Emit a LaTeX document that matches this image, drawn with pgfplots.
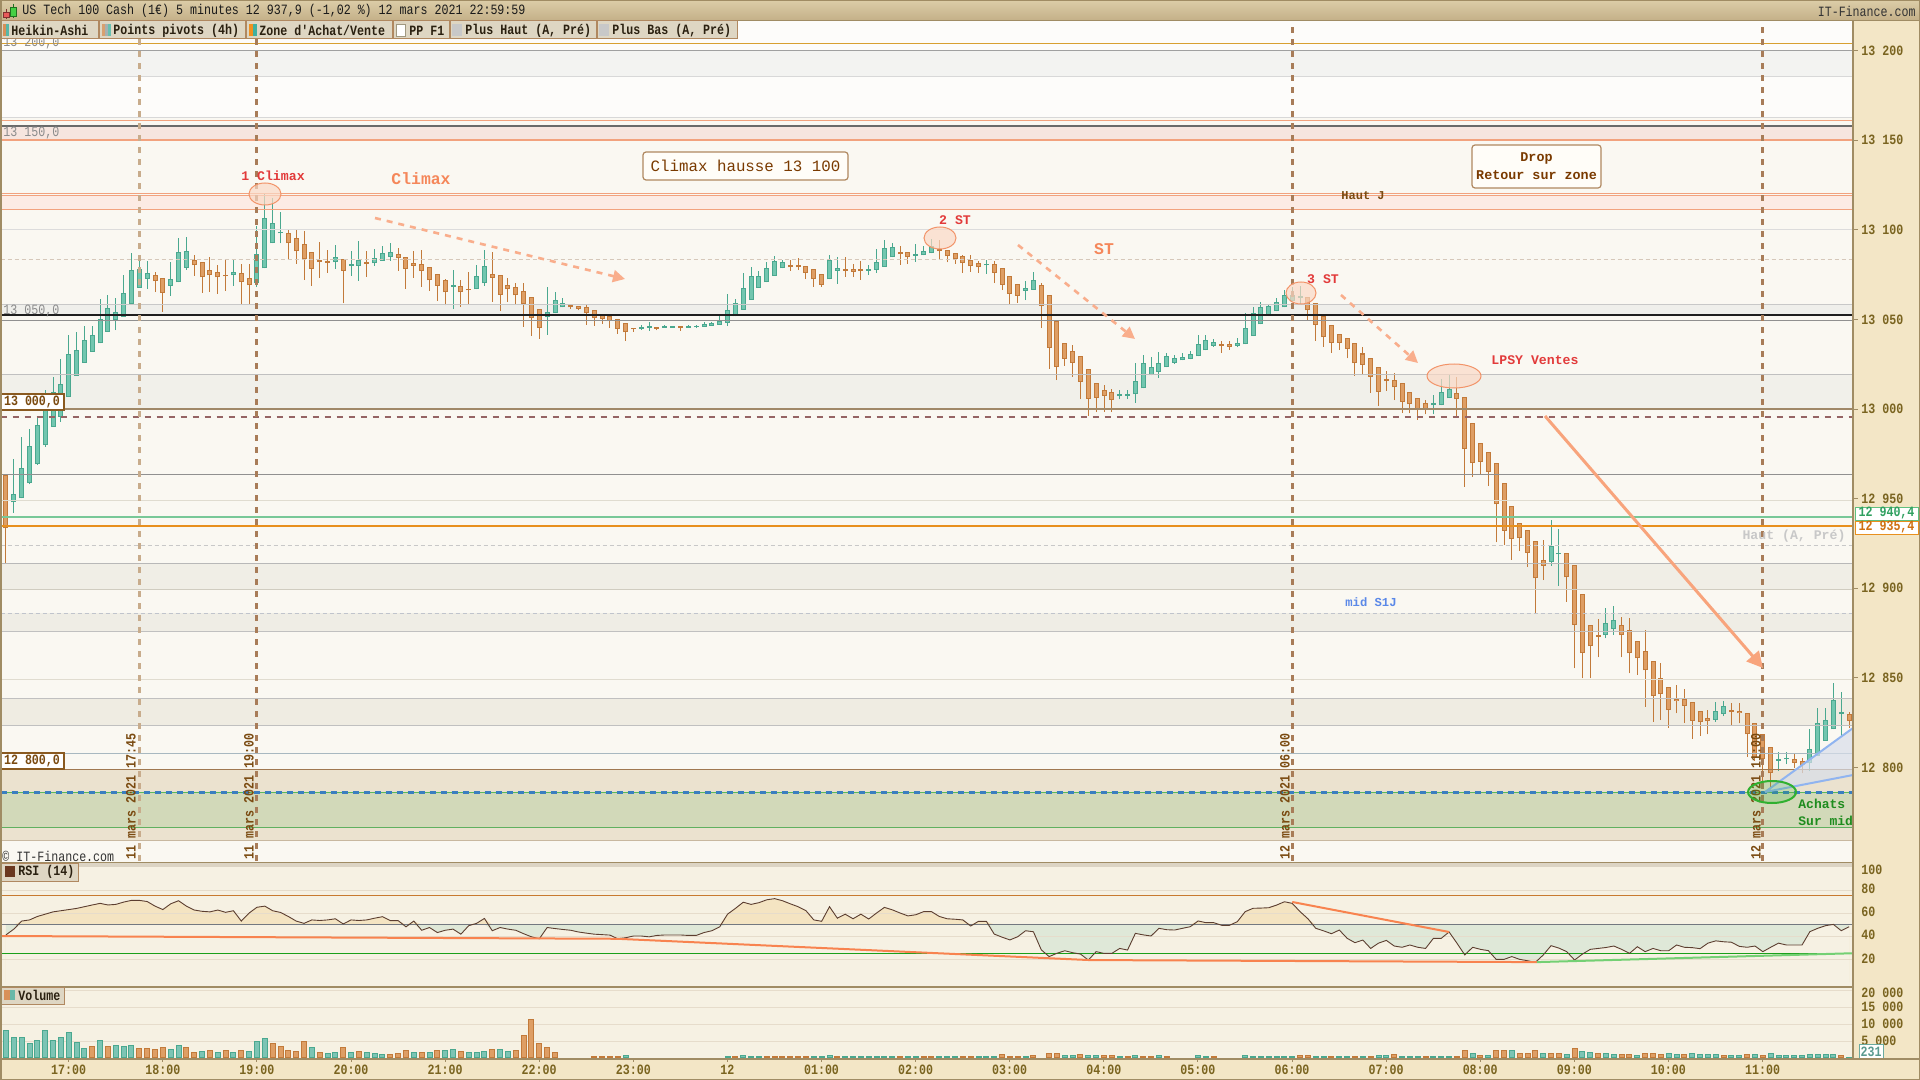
\documentclass[border=0pt]{standalone}
\usepackage{fontspec}
\setmainfont{Liberation Mono}
\newfontfamily\cf[FakeStretch=0.82]{Liberation Mono}
\usepackage{pgfplots}
\pgfplotsset{compat=1.18}
\usetikzlibrary{arrows.meta}
\usepackage{pgfplotstable}

\definecolor{tealB}{HTML}{4AA88F}
\definecolor{tealF}{HTML}{72C6AF}
\definecolor{orgB}{HTML}{C27A3A}
\definecolor{orgF}{HTML}{DE9E64}
\definecolor{frame}{HTML}{A08C64}
\definecolor{titleA}{HTML}{DCCDA8}
\definecolor{titleB}{HTML}{C3AF87}
\definecolor{btn}{HTML}{DED6C3}
\definecolor{mainbg}{HTML}{FAF8F2}
\definecolor{subbg}{HTML}{F6F1E3}
\definecolor{band}{HTML}{F3E6C6}
\definecolor{tick}{HTML}{7A6420}
\definecolor{dbrown}{HTML}{7A4A10}
\definecolor{ared}{HTML}{E23A3A}
\definecolor{aorange}{HTML}{F5875A}
\definecolor{arrowc}{HTML}{F9AE8C}
\definecolor{ellF}{HTML}{FAD9C6}
\definecolor{ellD}{HTML}{F29368}
\definecolor{boxB}{HTML}{B08860}
\definecolor{pinkL}{HTML}{F2A27E}
\definecolor{rsiup}{HTML}{F4E4C2}
\definecolor{rsidn}{HTML}{DFE8D8}
\definecolor{rsiln}{HTML}{5C3E30}
\definecolor{vline}{HTML}{A87C58}
\newcommand\dc[1]{\definecolor{c#1}{HTML}{#1}}
\dc{F3F3F1}\dc{F6E5DF}\dc{FCEBE4}\dc{EFEFEB}\dc{F1F0EA}\dc{F0EEE6}\dc{EFEDE5}
\dc{EFECE2}\dc{EBE2CF}\dc{D2D9B9}\dc{D8A030}\dc{A0A0A0}\dc{D8D8D8}\dc{6A6A6A}
\dc{DCDCDC}\dc{D6C8BA}\dc{C8C8C8}\dc{1E1E1E}\dc{909090}\dc{C0C0C0}\dc{A08868}
\dc{956464}\dc{E0DCD0}\dc{78C898}\dc{E8901E}\dc{B8B8B8}\dc{D0CCC0}\dc{C0C4CC}
\dc{A8B8C0}\dc{A07850}\dc{5CB85C}\dc{3A7EC0}\dc{60B060}\dc{C8B8A0}\dc{C8AC8C}
\dc{E6DCCB}\dc{C87A30}\dc{737880}\dc{1AA01A}\dc{F8834F}\dc{74D074}\dc{7CC4B4}
\dc{803030}\dc{E85A5A}\dc{207020}\dc{44D044}\dc{1A1A1A}\dc{333333}\dc{8C8C8C}
\dc{D89058}\dc{58B8A8}\dc{2A2010}\dc{D8A070}\dc{A8B0B0}\dc{68C0B0}\dc{F09020}
\dc{40B0A0}\dc{A09880}\dc{8A5A20}\dc{FFFDF8}\dc{7A3A00}\dc{F8A47C}\dc{5A88E8}
\dc{D8DEEA}\dc{90B4F0}\dc{30B030}\dc{1E8C1E}\dc{DCD4C4}\dc{6A3820}\dc{68B8A8}
\dc{60C080}\dc{30A060}\dc{D07010}\dc{6AAAA0}\dc{5A9A90}\dc{FDFCFA}

% Heikin-Ashi candles, bar index i = 5 min from 16:20 (11 mars)
\pgfplotstableread{
i o h l c
1 12948.0 12972.0 12942.2 12952.6
2 12950.2 12984.6 12950.2 12966.9
3 12958.6 12988.7 12958.0 12979.4
4 12969.2 12995.8 12969.0 12991.1
5 12979.8 13010.6 12979.0 12999.5
6 12990.2 13017.7 12990.0 13009.3
7 12995.8 13027.8 12993.0 13013.8
8 13006.9 13041.3 13006.9 13030.5
9 13018.6 13043.0 13018.6 13032.8
10 13025.9 13046.4 13025.9 13038.4
11 13032.0 13046.4 13032.0 13041.1
12 13036.7 13061.4 13036.7 13050.1
13 13043.2 13063.6 13043.2 13056.2
14 13049.9 13062.0 13044.1 13054.0
15 13051.6 13074.6 13051.6 13064.6
16 13058.4 13087.1 13058.4 13077.6
17 13067.7 13082.4 13067.7 13078.3
18 13072.8 13082.8 13067.2 13075.7
21 13068.9 13082.1 13063.1 13072.4
22 13070.7 13095.3 13070.7 13087.5
23 13078.9 13096.0 13077.6 13088.2
29 13074.6 13083.2 13068.9 13076.3
32 13070.5 13102.2 13068.0 13086.3
33 13078.5 13119.8 13078.5 13106.4
34 13092.5 13117.6 13092.5 13103.6
35 13098.0 13109.8 13092.5 13099.0
42 13081.9 13091.5 13078.3 13084.7
44 13079.8 13088.2 13074.3 13080.8
45 13080.0 13093.8 13071.6 13083.0
47 13081.3 13089.1 13080.0 13084.1
48 13082.8 13091.0 13082.8 13086.9
49 13084.7 13092.7 13082.8 13087.5
57 13068.1 13077.6 13055.7 13069.1
60 13066.8 13080.4 13066.8 13074.1
61 13070.1 13088.7 13068.8 13079.6
69 13051.1 13067.9 13041.5 13053.9
70 13053.4 13065.1 13053.4 13060.6
71 13056.7 13061.7 13056.7 13058.9
81 13044.8 13046.7 13044.2 13045.9
82 13045.4 13048.3 13043.7 13046.4
84 13045.4 13046.7 13045.4 13046.4
85 13045.4 13046.5 13045.4 13046.4
87 13045.4 13046.9 13045.4 13046.4
88 13045.6 13046.9 13045.2 13046.6
89 13045.9 13048.5 13045.9 13047.2
90 13046.5 13048.5 13046.5 13048.0
91 13047.0 13051.9 13047.0 13049.3
92 13048.2 13064.1 13046.3 13055.0
93 13051.7 13061.4 13051.7 13058.9
94 13055.4 13075.9 13055.4 13067.3
95 13061.0 13079.2 13061.0 13074.0
96 13067.7 13077.0 13067.7 13074.0
97 13070.7 13082.0 13070.7 13078.5
98 13074.4 13085.4 13074.4 13082.4
99 13078.5 13083.0 13078.5 13081.8
105 13072.3 13085.7 13072.3 13083.0
106 13077.2 13084.8 13069.9 13078.5
110 13077.2 13080.1 13074.9 13078.2
111 13077.7 13089.1 13076.1 13081.8
112 13079.4 13094.1 13079.4 13089.6
113 13084.6 13092.6 13084.6 13090.2
116 13085.5 13092.0 13082.2 13086.5
117 13085.7 13090.7 13085.7 13088.0
118 13086.8 13094.6 13086.8 13090.7
125 13080.2 13083.1 13075.5 13081.2
130 13066.0 13071.4 13060.8 13067.5
131 13066.6 13076.4 13066.6 13072.0
142 13007.2 13010.6 13005.4 13008.2
143 13007.4 13010.6 13005.6 13008.4
144 13008.2 13025.5 13003.5 13015.4
145 13011.5 13030.1 13011.5 13025.5
146 13018.8 13029.0 13018.8 13023.2
147 13020.8 13031.6 13017.5 13025.5
148 13023.2 13031.4 13023.2 13029.6
149 13025.8 13030.1 13025.1 13028.3
150 13027.1 13031.0 13027.1 13028.8
151 13028.1 13032.3 13027.7 13030.5
152 13029.4 13041.3 13029.4 13036.1
153 13032.7 13041.3 13032.7 13038.3
154 13035.3 13038.9 13034.8 13037.2
157 13035.3 13039.6 13034.4 13036.6
158 13036.1 13053.4 13036.1 13045.0
159 13040.7 13056.7 13040.7 13053.4
160 13047.2 13059.5 13047.2 13056.7
161 13051.9 13058.4 13051.9 13057.3
162 13054.5 13061.7 13054.5 13059.5
163 13056.7 13066.2 13056.7 13063.4
164 13060.1 13067.9 13060.1 13063.8
165 13062.2 13068.4 13058.4 13063.2
182 13002.2 13007.8 12997.0 13003.2
183 13002.0 13016.6 13002.0 13009.3
184 13006.0 13019.0 13006.0 13011.2
197 12914.4 12938.1 12912.6 12923.5
198 12918.9 12933.0 12901.4 12919.9
204 12873.7 12889.1 12872.0 12880.4
205 12877.1 12890.3 12874.1 12882.3
218 12826.8 12836.7 12825.5 12831.8
219 12829.8 12837.4 12828.7 12834.1
226 12803.8 12808.8 12798.2 12804.8
227 12804.5 12808.4 12801.9 12805.5
230 12802.3 12821.3 12798.2 12810.1
231 12806.4 12833.0 12806.4 12824.6
232 12815.0 12833.5 12815.0 12826.8
233 12821.3 12847.3 12821.3 12837.6
234 12829.8 12842.3 12817.2 12830.8
}\haT

\pgfplotstableread{
i o h l c
0 12963.2 12963.2 12913.9 12933.4
19 13074.6 13076.5 13065.3 13071.3
20 13073.0 13073.0 13054.4 13065.0
24 13083.4 13085.8 13074.3 13080.2
25 13081.9 13081.9 13065.0 13073.5
26 13077.4 13084.7 13065.5 13074.6
27 13076.3 13080.4 13064.4 13073.5
28 13075.0 13083.2 13066.1 13074.0
30 13075.7 13080.8 13058.8 13070.7
31 13073.0 13080.8 13058.8 13069.0
36 13098.1 13099.9 13083.9 13092.5
37 13095.3 13099.9 13081.1 13088.0
38 13091.9 13099.5 13072.2 13083.7
39 13087.5 13087.5 13068.9 13078.0
40 13083.2 13093.2 13073.3 13082.2
41 13082.6 13088.8 13076.1 13081.6
43 13083.6 13083.6 13059.0 13076.9
46 13081.8 13088.2 13073.9 13080.8
50 13086.3 13089.7 13077.2 13084.1
51 13085.0 13085.0 13067.2 13078.0
52 13081.3 13088.4 13073.3 13080.0
53 13080.8 13088.8 13068.3 13076.9
54 13079.1 13079.1 13066.1 13071.8
55 13075.2 13075.2 13060.3 13068.7
56 13071.8 13072.5 13057.9 13065.1
58 13068.5 13071.8 13057.1 13065.1
59 13067.2 13076.3 13058.3 13066.2
62 13075.1 13087.6 13059.9 13073.3
63 13074.6 13074.6 13054.9 13063.8
64 13069.0 13072.9 13059.9 13066.8
65 13067.9 13070.3 13058.8 13063.4
66 13065.6 13070.3 13046.0 13058.4
67 13062.3 13062.3 13040.9 13050.6
68 13056.1 13056.1 13039.2 13045.4
72 13057.8 13057.8 13056.0 13056.7
73 13057.3 13057.3 13055.0 13056.1
74 13056.7 13057.8 13047.0 13053.4
75 13055.0 13055.0 13046.5 13050.6
76 13052.2 13052.2 13047.6 13050.4
77 13051.7 13051.7 13045.4 13048.9
78 13050.0 13050.0 13042.0 13044.8
79 13047.8 13047.8 13038.1 13042.8
80 13045.4 13045.4 13043.1 13044.4
83 13045.8 13045.8 13043.9 13044.8
86 13046.1 13046.5 13043.7 13045.1
100 13080.1 13083.3 13077.2 13079.1
101 13080.1 13084.0 13077.5 13079.1
102 13079.6 13079.6 13072.5 13076.1
103 13077.9 13077.9 13068.1 13072.3
104 13075.1 13075.1 13068.1 13069.4
107 13078.3 13084.8 13073.8 13077.3
108 13078.0 13080.7 13073.6 13076.6
109 13077.9 13082.4 13072.1 13076.9
114 13087.4 13090.7 13080.5 13086.4
115 13087.4 13087.4 13081.0 13084.6
119 13089.1 13094.3 13083.7 13088.1
120 13088.5 13088.5 13081.8 13085.2
121 13086.8 13086.8 13081.1 13083.7
122 13085.4 13085.7 13076.1 13081.3
123 13083.1 13085.9 13076.6 13079.6
124 13081.3 13082.6 13076.1 13079.0
126 13080.7 13082.6 13070.3 13076.1
127 13078.5 13078.5 13066.4 13069.4
128 13074.0 13074.0 13058.7 13064.3
129 13069.5 13069.5 13059.3 13063.2
132 13069.0 13070.1 13045.2 13057.6
133 13063.4 13063.4 13022.5 13034.2
134 13048.9 13048.9 13016.2 13023.6
135 13036.6 13036.6 13024.2 13028.1
136 13032.2 13035.5 13018.0 13025.8
137 13029.4 13029.4 13005.6 13015.2
138 13022.1 13022.1 12996.3 13005.7
139 13014.3 13014.3 12998.3 13006.3
140 13010.4 13013.4 12998.3 13007.4
141 13009.3 13011.1 12998.3 13005.2
155 13036.1 13038.1 13031.4 13035.1
156 13036.1 13038.1 13033.1 13034.9
166 13062.3 13062.3 13049.6 13055.0
167 13059.0 13059.0 13038.1 13047.0
168 13051.7 13051.7 13034.8 13040.0
169 13046.7 13046.7 13031.4 13037.0
170 13041.6 13041.6 13033.1 13037.0
171 13039.4 13039.4 13028.3 13033.6
172 13036.6 13036.6 13018.6 13025.5
173 13031.0 13034.4 13019.1 13024.7
174 13028.3 13028.3 13009.1 13018.0
175 13023.2 13023.2 13001.8 13009.7
176 13016.6 13021.4 13010.2 13015.6
177 13016.0 13019.9 13005.0 13012.1
178 13014.3 13014.3 12998.0 13004.1
179 13009.3 13009.3 12997.6 13002.6
180 13006.0 13006.0 12993.9 13000.2
181 13003.2 13005.0 12997.0 13000.2
185 13008.7 13017.7 12995.3 13005.4
186 13006.9 13006.9 12956.7 12977.5
187 12992.0 12992.0 12962.2 12969.7
188 12980.8 12980.8 12963.7 12970.6
189 12975.8 12975.8 12957.0 12965.0
190 12970.0 12970.0 12925.6 12946.8
191 12958.5 12958.5 12924.1 12932.1
192 12945.7 12945.7 12915.9 12927.3
193 12936.2 12936.2 12920.9 12927.8
194 12932.3 12932.3 12912.0 12919.8
195 12926.2 12926.2 12886.0 12905.5
196 12915.7 12926.9 12904.6 12912.6
199 12919.5 12919.5 12892.5 12906.1
200 12912.8 12912.8 12855.3 12879.8
201 12896.6 12896.6 12849.7 12863.7
202 12879.8 12879.8 12849.7 12867.6
203 12874.0 12882.8 12861.4 12873.0
206 12879.8 12884.1 12861.4 12873.7
207 12876.7 12883.6 12852.5 12863.7
208 12870.5 12870.5 12851.9 12860.9
209 12865.3 12876.7 12833.9 12854.2
210 12859.7 12859.7 12825.5 12839.7
211 12849.7 12858.6 12826.5 12840.8
212 12845.2 12845.2 12822.2 12832.0
213 12838.5 12846.0 12830.2 12837.2
214 12838.0 12844.1 12825.0 12834.6
215 12836.3 12836.3 12816.0 12826.1
216 12831.3 12831.3 12817.7 12825.2
217 12827.9 12832.0 12818.5 12825.7
220 12832.0 12836.1 12823.7 12830.9
221 12831.5 12836.1 12824.6 12830.2
222 12830.7 12830.7 12806.0 12818.5
223 12824.6 12824.6 12803.8 12805.1
224 12818.5 12818.5 12791.1 12804.5
225 12811.2 12811.2 12786.5 12796.7
228 12804.5 12807.5 12799.7 12802.6
229 12803.8 12805.3 12796.7 12801.2
235 12829.6 12831.1 12821.8 12825.9
}\haO

% RSI (14)
\pgfplotstableread{
i r
0 41
1 46
2 53
3 54
4 57
5 59
6 61
7 62
8 63
9 64
10 65.5
11 67
12 68.4
13 67
14 67.5
15 69.5
16 71
17 71
18 70
19 66
20 63
21 68
22 70.7
23 66
24 62.6
25 61.5
26 61
27 62.6
28 60.6
29 62
30 53
31 60
32 65
33 66
34 62
35 60.5
36 57
37 53
38 51
39 54
40 53.5
41 54
42 55
43 50.5
44 54
45 53.5
46 54
47 55.5
48 56.8
49 53.4
50 53.4
51 48
52 53
53 45
54 47.4
55 43
56 45
57 46
58 41.6
59 49
60 51
61 55.3
62 44.6
63 47.4
64 46
65 45
66 42
67 39.3
68 37.6
69 47.4
70 46.5
71 45.7
72 45
73 43.5
74 42.5
75 41.6
76 41.2
77 40.8
78 37.6
79 38.5
80 40
81 40
82 39.3
83 40.5
84 40.9
85 40.9
86 40.9
87 40.5
88 40.5
89 43
90 44.6
91 48
92 59
93 64
94 69.4
95 67.5
96 69
97 71.5
98 72.5
99 70.7
100 68
101 65.5
102 62
103 54
104 52.8
105 65.5
106 55.5
107 59
108 55
109 59
110 54.8
111 60
112 64.9
113 62.8
114 60
115 57.5
116 58.5
117 61.2
118 61.2
119 57
120 55
121 54.6
122 54
123 48.7
124 52.8
125 52.8
126 41.7
127 39
128 36.6
129 39.4
130 44.6
131 43.7
132 28
133 22.1
134 25
135 27.2
136 25.5
137 24.3
138 19.1
139 26.4
140 24.9
141 24.9
142 29.2
143 27.8
144 42.3
145 41
146 40
147 46.7
148 45.5
149 45.2
150 46.7
151 48.1
152 53.1
153 51.6
154 51.6
155 49.3
156 49.3
157 52.5
158 61.2
159 64.1
160 64.3
161 64.6
162 66.9
163 69.8
164 68.4
165 61.2
166 55
167 46.7
168 44.5
169 42
170 45.2
171 38
172 34.2
173 36.5
174 29.2
175 33.8
176 36.2
177 31.3
178 30.2
179 32.2
180 30.2
181 29.2
182 38
183 38
184 43.5
185 33.8
186 23.5
187 30.2
188 28.4
189 27.3
190 19.7
191 19.7
192 22.1
193 19.7
194 18.5
195 17.1
196 23.5
197 31.6
198 29.5
199 26.4
200 19.1
201 24.3
202 28.4
203 29.2
204 30
205 31.3
206 28.4
207 24.9
208 30.7
209 26.4
210 29.2
211 27.2
212 27.2
213 32.2
214 30.2
215 29.9
216 29
217 33.8
218 35.8
219 35
220 34.6
221 31
222 30.2
223 31.3
224 26.4
225 30.2
226 33.8
227 32.2
228 32.2
229 32.2
230 43.8
231 46.7
232 49
233 50.1
234 44.6
235 48.1
}\rsi

% Volume
\pgfplotstableread{
i v
0 8200
1 6100
2 6100
3 4300
4 5200
5 8100
6 5200
7 6100
8 7600
9 4600
10 2900
12 5200
14 3700
15 3400
16 3700
21 2600
22 3700
25 2000
27 1700
29 1700
31 2000
32 4900
33 5800
39 3200
41 1200
42 1500
44 1700
46 1500
47 1200
48 900
52 1500
54 1700
56 2300
57 2600
59 1700
60 1500
61 1800
63 2500
64 1800
79 600
92 500
94 600
95 300
96 300
103 300
104 300
105 600
107 300
108 300
109 300
110 300
111 300
112 300
113 300
115 300
116 300
119 400
120 400
121 400
124 400
125 400
126 400
130 400
135 800
136 600
138 600
139 600
142 400
144 800
147 700
152 600
153 400
158 800
159 400
160 400
161 400
162 400
163 400
164 400
167 400
168 400
170 400
171 400
173 400
175 800
176 800
178 400
179 400
180 400
182 400
183 400
184 400
187 1200
189 800
192 2100
196 1200
199 1100
201 1900
202 1600
204 1200
205 900
208 800
212 1200
213 900
215 1200
216 900
217 900
218 900
220 800
221 600
223 900
225 1200
226 600
227 600
228 600
229 600
230 1000
231 1000
232 1000
233 1000
235 231
}\volT

\pgfplotstableread{
i v
11 3400
13 3400
17 2900
18 2900
19 2600
20 3200
23 3200
24 1700
26 2300
28 2300
30 2300
34 4300
35 3400
36 2300
37 2000
38 4900
40 1500
43 3200
45 2000
49 900
50 1200
51 2300
53 1700
55 2300
58 2000
62 2600
65 2300
66 6500
67 11400
68 4400
69 3200
70 1600
75 300
76 300
77 300
78 300
93 300
97 300
98 300
99 300
100 300
101 300
102 300
106 500
114 500
117 300
118 300
122 400
123 400
127 1000
128 500
129 400
131 600
133 1200
134 1200
137 1000
140 600
141 600
143 400
145 400
146 400
148 400
154 400
165 600
166 600
169 400
172 400
174 400
177 900
181 400
185 400
186 2100
188 600
190 2100
191 2100
193 1400
194 1400
195 2100
197 1400
198 1400
200 2700
203 1200
206 900
207 1100
209 1400
210 1400
211 1100
214 1000
219 800
222 900
224 800
234 800
}\volO

\pgfplotsset{
  panel/.style={scale only axis, width=926.5pt, xmin=-0.765, xmax=235.5,
    axis line style={draw=none}, ticks=none, anchor=north west, clip=true},
  cbar/.style 2 args={draw=none, forget plot,
    error bars/.cd, y dir=plus, y explicit, error mark=none,
    error bar style={draw=#1, line width=#2, solid}},
}
\newcommand\hl[2]{\addplot[#2] coordinates {(-0.7,#1) (235.4,#1)};}

\tikzset{
  lab/.style={inner sep=0pt, font=\cf\bfseries\fontsize{7.1pt}{8pt}\selectfont},
  labr/.style={inner sep=0pt, font=\cf\fontsize{7.1pt}{8pt}\selectfont},
  ann/.style={inner sep=0pt, font=\bfseries\fontsize{6.6pt}{8pt}\selectfont},
  btnbox/.style={fill=btn, draw=boxB, line width=0.5pt},
}

\begin{document}
\begin{tikzpicture}
\fill[mainbg] (0,0) rectangle (960pt,-540pt);

% ---------- price panel ----------
\begin{axis}[panel, at={(0pt,-10.5pt)}, height=420.5pt,
  ymin=12747.3, ymax=13216.5, axis background/.style={fill=mainbg}]
  \fill[cFDFCFA] (axis cs:-0.7,13163) rectangle (axis cs:235.4,13216.4);
  \fill[cF3F3F1] (axis cs:-0.7,13185.5) rectangle (axis cs:235.4,13200);
  \fill[cF6E5DF] (axis cs:-0.7,13150) rectangle (axis cs:235.4,13158);
  \fill[cFCEBE4] (axis cs:-0.7,13111.6) rectangle (axis cs:235.4,13119.3);
  \fill[cEFEFEB] (axis cs:-0.7,13052.6) rectangle (axis cs:235.4,13058.6);
  \fill[cF1F0EA] (axis cs:-0.7,13000) rectangle (axis cs:235.4,13019.5);
  \fill[cF0EEE6] (axis cs:-0.7,12899.4) rectangle (axis cs:235.4,12913.9);
  \fill[cEFEDE5] (axis cs:-0.7,12876) rectangle (axis cs:235.4,12886);
  \fill[cEFECE2] (axis cs:-0.7,12823.7) rectangle (axis cs:235.4,12838.5);
  \fill[cEBE2CF] (axis cs:-0.7,12786) rectangle (axis cs:235.4,12799);
  \fill[cD2D9B9] (axis cs:-0.7,12766.6) rectangle (axis cs:235.4,12786);
  \fill[cEBE2CF] (axis cs:-0.7,12759.5) rectangle (axis cs:235.4,12766.6);

  % candles
  \addplot[cbar={tealB}{0.5pt}] table[x=i, y=l, y error plus expr=\thisrow{h}-\thisrow{l}] {\haT};
  \addplot[cbar={orgB}{0.5pt}] table[x=i, y=l, y error plus expr=\thisrow{h}-\thisrow{l}] {\haO};
  \addplot[cbar={tealB}{2.5pt}] table[x=i, y=o, y error plus expr=\thisrow{c}-\thisrow{o}] {\haT};
  \addplot[cbar={orgB}{2.5pt}] table[x=i, y=c, y error plus expr=\thisrow{o}-\thisrow{c}] {\haO};
  \addplot[cbar={tealF}{1.5pt}] table[x=i, y expr=\thisrow{o}+0.56, y error plus expr={max(\thisrow{c}-\thisrow{o}-1.12,0)}] {\haT};
  \addplot[cbar={orgF}{1.5pt}] table[x=i, y expr=\thisrow{c}+0.56, y error plus expr={max(\thisrow{o}-\thisrow{c}-1.12,0)}] {\haO};

  % levels
  \hl{13204}{cD8A030, line width=0.6pt}
  \hl{13200}{cA0A0A0, line width=0.5pt}
  \hl{13185.5}{cD8D8D8, line width=0.5pt}
  \hl{13162.8}{cD8D8D8, line width=0.5pt}
  \hl{13161}{pinkL, line width=0.5pt}
  \hl{13158}{c6A6A6A, line width=1.35pt}
  \hl{13150}{pinkL, line width=0.7pt}
  \hl{13120.3}{pinkL, line width=0.5pt}
  \hl{13119.3}{pinkL, line width=0.5pt}
  \hl{13111.6}{pinkL, line width=0.5pt}
  \hl{13100}{cDCDCDC, line width=0.5pt}
  \hl{13083.7}{cD6C8BA, line width=0.5pt, dash pattern=on 2pt off 1.5pt}
  \hl{13058.6}{cC8C8C8, line width=0.5pt}
  \hl{13052.6}{c1E1E1E, line width=1.15pt}
  \hl{13049.5}{c909090, line width=0.5pt}
  \hl{13019.5}{cC0C0C0, line width=0.5pt}
  \hl{13000}{cA08868, line width=1pt}
  \hl{12995.7}{c956464, line width=1pt, dash pattern=on 3pt off 3pt}
  \hl{12963.5}{c909090, line width=0.5pt}
  \hl{12949}{cE0DCD0, line width=0.5pt}
  \hl{12939.9}{c78C898, line width=1pt}
  \hl{12934.9}{cE8901E, line width=1pt}
  \hl{12923.9}{cC8C8C8, line width=0.5pt, dash pattern=on 2pt off 1.5pt}
  \hl{12913.9}{cB8B8B8, line width=0.5pt}
  \hl{12899.4}{cD0CCC0, line width=0.5pt}
  \hl{12886}{cC0C4CC, line width=0.5pt, dash pattern=on 2pt off 1.5pt}
  \hl{12876}{cC0C0C0, line width=0.5pt}
  \hl{12849.3}{cE0DCD0, line width=0.5pt}
  \hl{12838.5}{cC0C0C0, line width=0.5pt}
  \hl{12823.7}{cC0C0C0, line width=0.5pt}
  \hl{12807.8}{cA8B8C0, line width=0.5pt}
  \hl{12799}{cA07850, line width=0.75pt}
  \hl{12786}{c5CB85C, line width=0.5pt}
  \hl{12786}{c3A7EC0, line width=1.25pt, dash pattern=on 3pt off 2.5pt}
  \hl{12766.6}{c60B060, line width=0.5pt}
  \hl{12759.5}{cC8B8A0, line width=0.5pt}

  % session markers
  \addplot[cC8AC8C, line width=1.5pt, dash pattern=on 3pt off 3pt] coordinates {(17,12748) (17,13216)};
  \addplot[vline, line width=1.5pt, dash pattern=on 3pt off 3pt] coordinates {(32,12748) (32,13216)};
  \addplot[vline, line width=1.5pt, dash pattern=on 3pt off 3pt] coordinates {(164,12748) (164,13216)};
  \addplot[vline, line width=1.5pt, dash pattern=on 3pt off 3pt] coordinates {(224,12748) (224,13216)};
\end{axis}

% ---------- RSI panel ----------
\begin{axis}[panel, at={(0pt,-431.5pt)}, height=62pt,
  ymin=-4.35, ymax=103.5, axis background/.style={fill=subbg}]
  % zone above 50 (beige), then zone between the RSI and 50 below it (green)
  \addplot[fill=rsiup, draw=none] table[x=i, y expr={max(\thisrow{r},50)}] {\rsi} \closedcycle;
  \fill[rsidn] (axis cs:0,-5) rectangle (axis cs:235,50);
  \addplot[fill=subbg, draw=none] table[x=i, y expr={min(\thisrow{r},50)}] {\rsi} \closedcycle;
  \fill[subbg] (axis cs:0,-5) rectangle (axis cs:235,0);
  \hl{80}{cE6DCCB, line width=0.5pt}
  \hl{60}{cE6DCCB, line width=0.5pt}
  \hl{40}{cE6DCCB, line width=0.5pt}
  \hl{20}{cE6DCCB, line width=0.5pt}
  \hl{75}{cC87A30, line width=0.6pt}
  \hl{50}{c737880, line width=0.6pt}
  \hl{25}{c1AA01A, line width=0.75pt}
  \addplot[rsiln, line width=0.45pt] table[x=i, y=r] {\rsi};
  \addplot[cF8834F, line width=1pt] coordinates {(-0.7,40) (77.9,37.6) (138.1,19.1) (195.2,17.3)};
  \addplot[cF8834F, line width=1pt] coordinates {(164,69.6) (184,43.5)};
  \addplot[c74D074, line width=1pt] coordinates {(195.2,17.3) (235.4,25)};
\end{axis}

% ---------- volume panel ----------
\begin{axis}[panel, at={(0pt,-493.5pt)}, height=36pt,
  ymin=-300, ymax=20900, axis background/.style={fill=subbg}]
  \hl{20000}{cE6DCCB, line width=0.5pt}
  \hl{15000}{cE6DCCB, line width=0.5pt}
  \hl{10000}{cE6DCCB, line width=0.5pt}
  \hl{5000}{cE6DCCB, line width=0.5pt}
  \addplot[ybar, bar width=2.5pt, bar shift=0pt, fill=c7CC4B4, draw=tealB, line width=0.5pt] table[x=i, y=v] {\volT};
  \addplot[ybar, bar width=2.5pt, bar shift=0pt, fill=orgF, draw=orgB, line width=0.5pt] table[x=i, y=v] {\volO};
\end{axis}

% ---------- frame, labels, annotations (pixel grid 1920x1080) ----------
\begin{scope}[x=0.5pt, y=-0.5pt]
  % title bar
  \shade[top color=titleA, bottom color=titleB] (0,0) rectangle (1920,21);
  \draw[frame, line width=0.5pt] (0,21) -- (1920,21);
  \draw[c803030, line width=0.4pt] (6,9) -- (6,19);
  \filldraw[fill=cE85A5A, draw=c803030, line width=0.4pt] (3,12) rectangle (9,17);
  \draw[c207020, line width=0.4pt] (13,4) -- (13,18);
  \filldraw[fill=c44D044, draw=c207020, line width=0.4pt] (10,7) rectangle (16,16);
  \node[labr, anchor=west, text=c1A1A1A] at (22,11) {US Tech 100 Cash (1€) 5 minutes 12 937,9 (-1,02 \%) 12 mars 2021 22:59:59};
  \node[labr, anchor=east, text=c333333] at (1916,11) {IT-Finance.com};

  % grey level captions
  \node[labr, anchor=west, text=c8C8C8C] at (3,43) {13 200,0};
  \node[labr, anchor=west, text=c8C8C8C] at (3,133) {13 150,0};
  \node[labr, anchor=west, text=c8C8C8C] at (3,311) {13 050,0};

  % indicator buttons
  \draw[btnbox] (0,21) rectangle (98,39);
  \fill[cD89058] (3,24) rectangle (6,36); \fill[c58B8A8] (6,24) rectangle (9,36);
  \node[lab, anchor=west, text=c2A2010] at (11,30.5) {Heikin-Ashi};
  \draw[btnbox] (99,21) rectangle (245,39);
  \fill[cD8A070] (102,24) rectangle (105,36); \fill[cA8B0B0] (105,24) rectangle (108,36); \fill[c68C0B0] (108,24) rectangle (111,36);
  \node[lab, anchor=west, text=c2A2010] at (113,30.5) {Points pivots (4h)};
  \draw[btnbox] (246,21) rectangle (392,39);
  \fill[cF09020] (249,24) rectangle (253,36); \fill[c40B0A0] (253,24) rectangle (257,36);
  \node[lab, anchor=west, text=c2A2010] at (259,30.5) {Zone d'Achat/Vente};
  \draw[btnbox] (393,21) rectangle (449,39);
  \filldraw[draw=cA09880, fill=white, line width=0.4pt] (396,24) rectangle (405,36);
  \node[lab, anchor=west, text=c2A2010] at (409,30.5) {PP F1};
  \draw[btnbox] (450,21) rectangle (596,39);
  \fill[cC8C8C8] (452,24) rectangle (462,36);
  \node[lab, anchor=west, text=c2A2010] at (465,30.5) {Plus Haut (A, Pré)};
  \draw[btnbox] (597,21) rectangle (737,39);
  \fill[cC8C8C8] (599,24) rectangle (609,36);
  \node[lab, anchor=west, text=c2A2010] at (612,30.5) {Plus Bas (A, Pré)};

  % price boxes on the left
  \filldraw[fill=white, draw=c8A5A20, line width=0.6pt] (0,394) rectangle (64,410);
  \node[lab, text=dbrown] at (32,402.5) {13 000,0};
  \filldraw[fill=white, draw=c8A5A20, line width=0.6pt] (0,753) rectangle (64,769);
  \node[lab, text=dbrown] at (32,761.5) {12 800,0};

  % date captions of the session markers
  \node[lab, text=dbrown, rotate=90, anchor=west] at (131,860) {11 mars 2021 17:45};
  \node[lab, text=dbrown, rotate=90, anchor=west] at (249,860) {11 mars 2021 19:00};
  \node[lab, text=dbrown, rotate=90, anchor=west] at (1285,860) {12 mars 2021 06:00};
  \node[lab, text=dbrown, rotate=90, anchor=west] at (1756,860) {12 mars 2021 11:00};
  \node[labr, anchor=west, text=c333333] at (2,856) {© IT-Finance.com};

  % annotations
  \filldraw[draw=ellD, fill=ellF, fill opacity=0.7, line width=0.5pt] (265,194) ellipse [x radius=8pt, y radius=5.5pt];
  \node[ann, text=ared] at (273,176) {1 Climax};
  \node[inner sep=0pt, font=\bfseries\fontsize{8.2pt}{9pt}\selectfont, text=aorange] at (421,179) {Climax};
  \draw[arrowc, line width=1.3pt, dash pattern=on 3pt off 3pt, -{Triangle[length=6pt,width=6pt]}] (375,218) -- (625,279);
  \filldraw[draw=boxB, fill=cFFFDF8, rounded corners=1.5pt, line width=0.6pt] (643,152) rectangle (848,180);
  \node[inner sep=0pt, font=\fontsize{7.9pt}{9pt}\selectfont, text=c7A3A00] at (745.5,166) {Climax hausse 13 100};

  \filldraw[draw=ellD, fill=ellF, fill opacity=0.7, line width=0.5pt] (940,238) ellipse [x radius=8pt, y radius=5.5pt];
  \node[ann, text=ared] at (955,220) {2 ST};
  \node[inner sep=0pt, font=\bfseries\fontsize{8.2pt}{9pt}\selectfont, text=aorange] at (1104,249) {ST};
  \draw[arrowc, line width=1.3pt, dash pattern=on 3pt off 3pt, -{Triangle[length=6pt,width=6pt]}] (1018,245) -- (1135,339);

  \filldraw[draw=ellD, fill=ellF, fill opacity=0.7, line width=0.5pt] (1301,293) ellipse [x radius=7.5pt, y radius=5.5pt];
  \node[ann, text=ared] at (1323,279) {3 ST};
  \draw[arrowc, line width=1.3pt, dash pattern=on 3pt off 3pt, -{Triangle[length=6pt,width=6pt]}] (1341,295) -- (1418,363);

  \filldraw[draw=ellD, fill=ellF, fill opacity=0.7, line width=0.5pt] (1454,376) ellipse [x radius=13.5pt, y radius=6pt];
  \node[ann, text=ared] at (1535,360) {LPSY Ventes};
  \draw[cF8A47C, line width=1.5pt, -{Triangle[length=8pt,width=8pt]}] (1545,416) -- (1763,668);

  \node[inner sep=0pt, font=\bfseries\fontsize{6pt}{7pt}\selectfont, text=dbrown] at (1363,196) {Haut J};
  \filldraw[draw=boxB, fill=cFFFDF8, rounded corners=1.5pt, line width=0.6pt] (1472,145) rectangle (1601,188);
  \node[inner sep=0pt, font=\bfseries\fontsize{6.7pt}{8pt}\selectfont, text=c7A3A00] at (1536.5,158) {Drop};
  \node[inner sep=0pt, font=\bfseries\fontsize{6.7pt}{8pt}\selectfont, text=c7A3A00] at (1536.5,175) {Retour sur zone};
  \node[ann, text=cC8C8C8] at (1794,536) {Haut (A, Pré)};
  \node[inner sep=0pt, font=\bfseries\fontsize{6.1pt}{7pt}\selectfont, text=c5A88E8] at (1371,602) {mid S1J};

  \fill[cD8DEEA, fill opacity=0.7] (1765,792) -- (1853,728) -- (1853,775) -- cycle;
  \draw[c90B4F0, line width=1pt] (1765,792) -- (1853,728);
  \draw[c90B4F0, line width=1pt] (1765,792) -- (1853,775);
  \filldraw[draw=c30B030, fill=c30B030, fill opacity=0.2, line width=1pt] (1772,792) ellipse [x radius=12pt, y radius=5.5pt];
  \node[inner sep=0pt, anchor=west, font=\bfseries\fontsize{6.5pt}{8pt}\selectfont, text=c1E8C1E] at (1798,804) {Achats};
  \node[inner sep=0pt, anchor=west, font=\bfseries\fontsize{6.5pt}{8pt}\selectfont, text=c1E8C1E] at (1798,821) {Sur mid};

  % panel separators
  \draw[frame, line width=0.6pt] (0,862.5) -- (1853,862.5);
  \fill[cDCD4C4] (0,863) rectangle (1853,867);
  \draw[frame, line width=0.6pt] (0,987) -- (1853,987);
  \draw[btnbox] (0,863) rectangle (78,881);
  \fill[c6A3820] (5,866) rectangle (15,877);
  \node[lab, anchor=west, text=c2A2010] at (18,872) {RSI (14)};
  \draw[btnbox] (0,987) rectangle (64,1004);
  \fill[cD89058] (4,990) rectangle (10,1000); \fill[c68B8A8] (10,990) rectangle (15,1000);
  \node[lab, anchor=west, text=c2A2010] at (18,995.5) {Volume};

  % right scale
  \fill[band] (1853,21.5) rectangle (1920,1059);
  \draw[frame, line width=0.6pt] (1853,21) -- (1853,1059);
  \foreach \t/\y in {13 200/50.6, 13 150/140.2, 13 100/229.8, 13 050/319.4, 13 000/409,
                     12 950/498.6, 12 900/588.2, 12 850/677.8, 12 800/767.4} {
    \draw[frame, line width=0.5pt] (1853,\y) -- (1858,\y);
    \node[lab, anchor=west, text=tick] at (1861,\y) {\t};
  }
  \filldraw[fill=white, draw=c60C080, line width=0.5pt] (1855,507) rectangle (1918,520);
  \node[lab, text=c30A060] at (1886.5,513.5) {12 940,4};
  \filldraw[fill=white, draw=cE8901E, line width=0.5pt] (1855,521) rectangle (1918,534);
  \node[lab, text=cD07010] at (1886.5,527.5) {12 935,4};
  \node[lab, anchor=west, text=tick] at (1861,870) {100};
  \node[lab, anchor=west, text=tick] at (1861,889) {80};
  \node[lab, anchor=west, text=tick] at (1861,912) {60};
  \node[lab, anchor=west, text=tick] at (1861,935) {40};
  \node[lab, anchor=west, text=tick] at (1861,959) {20};
  \node[lab, anchor=west, text=tick] at (1861,993) {20 000};
  \node[lab, anchor=west, text=tick] at (1861,1007) {15 000};
  \node[lab, anchor=west, text=tick] at (1861,1024) {10 000};
  \node[lab, anchor=west, text=tick] at (1861,1041) {5 000};
  \filldraw[fill=white, draw=c6AAAA0, line width=0.5pt] (1859,1044) rectangle (1883,1058);
  \node[lab, text=c5A9A90] at (1871,1051.5) {231};

  % time axis
  \fill[band] (0,1059) rectangle (1920,1080);
  \draw[frame, line width=0.6pt] (0,1059) -- (1920,1059);
  \foreach \k/\t in {0/17:00, 1/18:00, 2/19:00, 3/20:00, 4/21:00, 5/22:00, 6/23:00, 7/12,
                     8/01:00, 9/02:00, 10/03:00, 11/04:00, 12/05:00, 13/06:00, 14/07:00,
                     15/08:00, 16/09:00, 17/10:00, 18/11:00} {
    \draw[frame, line width=0.5pt] (68.7+94.1*\k,1059) -- (68.7+94.1*\k,1062);
    \node[lab, text=tick] at (68.7+94.1*\k,1069.5) {\t};
  }
  \draw[frame, line width=1pt] (0.5,0.5) rectangle (1919.5,1079.5);
\end{scope}
\pgfresetboundingbox
\path[use as bounding box] (0,0) rectangle (960pt,-540pt);
\end{tikzpicture}
\end{document}
